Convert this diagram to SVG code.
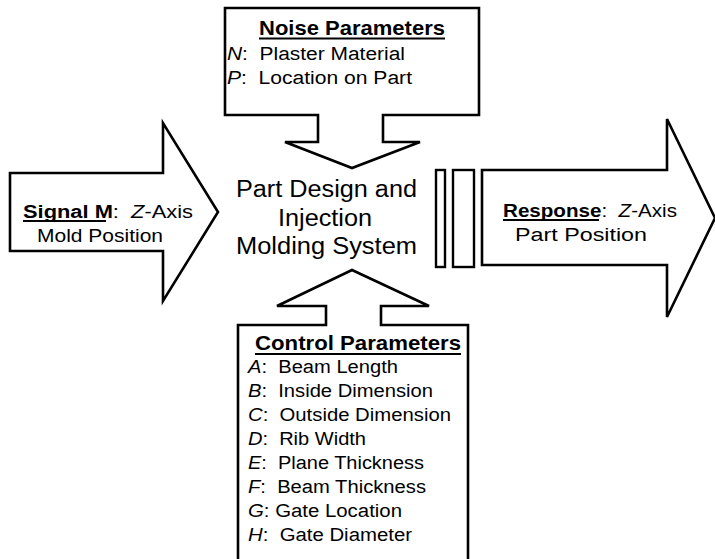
<svg xmlns="http://www.w3.org/2000/svg" width="715" height="559" viewBox="0 0 715 559">
<style>
.sh{fill:#fff;stroke:#000;stroke-width:2.6;stroke-linejoin:miter}
text{font-family:"Liberation Sans",Arial,Helvetica,sans-serif;fill:#000}
.t{font-size:21px;font-weight:bold}
.b{font-size:18px}
.c{font-size:23.5px}
.i{font-style:italic}
.bo{font-weight:bold}
.ul{stroke:#000;stroke-width:1.8}
</style>
<rect width="715" height="559" fill="#fff"/>
<g id="connectors">
<rect x="436" y="170" width="9" height="97" fill="#fff" stroke="#000" stroke-width="2.4"/>
<rect x="453" y="170" width="21" height="97" fill="#fff" stroke="#000" stroke-width="2.4"/>
</g>
<g id="noise">
<path class="sh" d="M225,8 H479 V115 H383 V142 H420 L352,168 L285,142 H318 V115 H225 Z"/>
<text class="t" x="259" y="35" textLength="186" lengthAdjust="spacingAndGlyphs">Noise Parameters</text>
<line class="ul" x1="259" y1="38.5" x2="445" y2="38.5"/>
<text class="b" x="227" y="60" xml:space="preserve" textLength="178" lengthAdjust="spacingAndGlyphs"><tspan class="i">N</tspan>:  Plaster Material</text>
<text class="b" x="227" y="84" xml:space="preserve" textLength="185" lengthAdjust="spacingAndGlyphs"><tspan class="i">P</tspan>:  Location on Part</text>
</g>
<g id="signal">
<path class="sh" d="M10,173 H163 V123 L218,212 L163,301 V251 H10 Z"/>
<text class="b" x="23" y="218" xml:space="preserve" textLength="170" lengthAdjust="spacingAndGlyphs"><tspan class="bo">Signal M</tspan>:  <tspan class="i">Z</tspan>-Axis</text>
<line class="ul" x1="23" y1="221" x2="106" y2="221"/>
<text class="b" x="37" y="242" textLength="126" lengthAdjust="spacingAndGlyphs">Mold Position</text>
</g>
<g id="system">
<text class="c" x="236" y="197" textLength="181" lengthAdjust="spacingAndGlyphs">Part Design and</text>
<text class="c" x="278" y="226" textLength="94" lengthAdjust="spacingAndGlyphs">Injection</text>
<text class="c" x="236" y="254" textLength="181" lengthAdjust="spacingAndGlyphs">Molding System</text>
</g>
<g id="response">
<path class="sh" d="M482,170 H667 V119 L715,218 L667,317 V265 H482 Z"/>
<text class="b" x="503" y="217" xml:space="preserve" textLength="174" lengthAdjust="spacingAndGlyphs"><tspan class="bo">Response</tspan>:  <tspan class="i">Z</tspan>-Axis</text>
<line class="ul" x1="503" y1="220" x2="599" y2="220"/>
<text class="b" x="515" y="241" textLength="132" lengthAdjust="spacingAndGlyphs">Part Position</text>
</g>
<g id="control">
<path class="sh" d="M238,565 V325 H326 V306 H277 L352,270 L429,306 H381 V325 H468 V565"/>
<text class="t" x="255" y="350" textLength="206" lengthAdjust="spacingAndGlyphs">Control Parameters</text>
<line class="ul" x1="255" y1="354" x2="461" y2="354"/>
<text class="b" x="248" y="373" xml:space="preserve" textLength="150" lengthAdjust="spacingAndGlyphs"><tspan class="i">A</tspan>:  Beam Length</text>
<text class="b" x="248" y="397" xml:space="preserve" textLength="185" lengthAdjust="spacingAndGlyphs"><tspan class="i">B</tspan>:  Inside Dimension</text>
<text class="b" x="248" y="421" xml:space="preserve" textLength="203" lengthAdjust="spacingAndGlyphs"><tspan class="i">C</tspan>:  Outside Dimension</text>
<text class="b" x="248" y="445" xml:space="preserve" textLength="118" lengthAdjust="spacingAndGlyphs"><tspan class="i">D</tspan>:  Rib Width</text>
<text class="b" x="248" y="469" xml:space="preserve" textLength="176" lengthAdjust="spacingAndGlyphs"><tspan class="i">E</tspan>:  Plane Thickness</text>
<text class="b" x="248" y="493" xml:space="preserve" textLength="178" lengthAdjust="spacingAndGlyphs"><tspan class="i">F</tspan>:  Beam Thickness</text>
<text class="b" x="248" y="517" xml:space="preserve" textLength="154" lengthAdjust="spacingAndGlyphs"><tspan class="i">G</tspan>: Gate Location</text>
<text class="b" x="248" y="541" xml:space="preserve" textLength="164" lengthAdjust="spacingAndGlyphs"><tspan class="i">H</tspan>:  Gate Diameter</text>
</g>
</svg>
